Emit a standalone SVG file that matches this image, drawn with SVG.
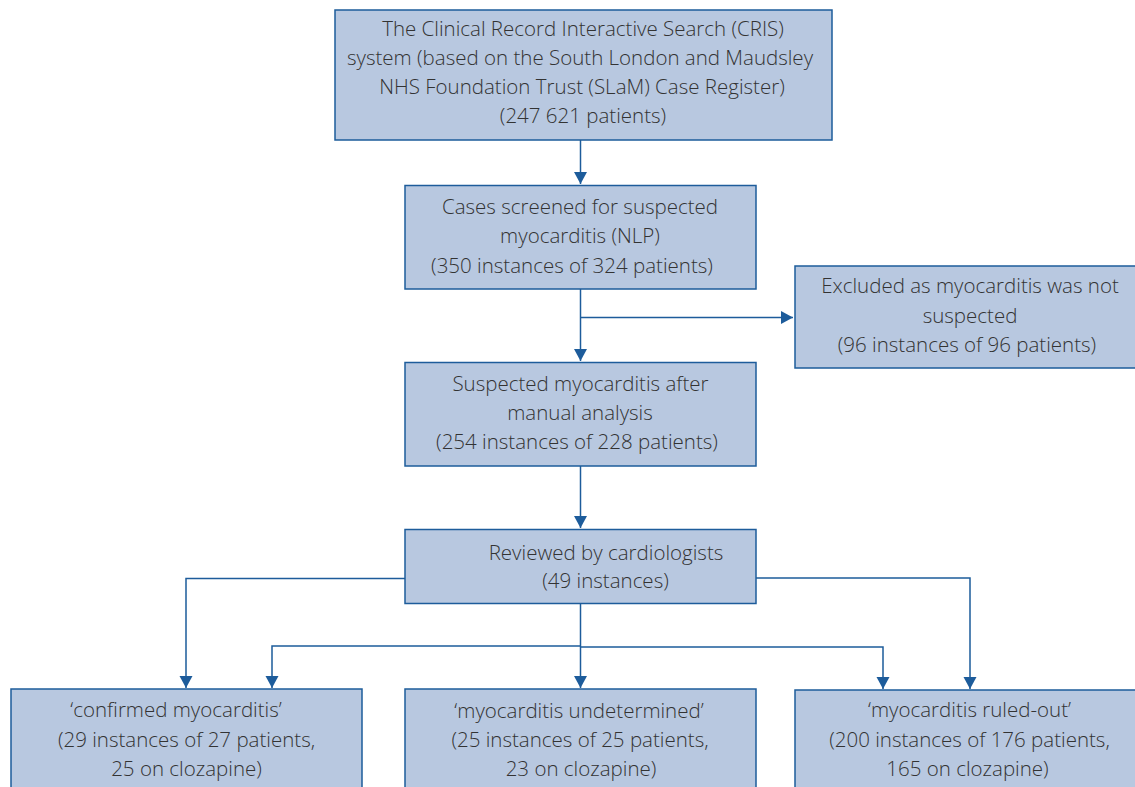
<svg xmlns="http://www.w3.org/2000/svg" width="1135" height="787" viewBox="0 0 1135 787">
<style>
.box{fill:#b8c8e0;stroke:#1d5c9b;stroke-width:1.5}
.t{font-family:"Open Sans","Liberation Sans",sans-serif;font-weight:300;font-size:20.5px;fill:#333;text-anchor:middle}
.c{fill:none;stroke:#1d5c9b;stroke-width:1.5}
</style>
<defs>
<marker id="ah" markerUnits="userSpaceOnUse" markerWidth="13" markerHeight="14" refX="12" refY="6.5" orient="auto">
<path d="M0,0 L12,6.5 L0,13 z" fill="#1d5c9b"/>
</marker>
</defs>
<rect width="1135" height="787" fill="#fff"/>
<g id="connectors">
<path class="c" d="M580.5,140 V184" marker-end="url(#ah)"/>
<path class="c" d="M580.5,289 V361" marker-end="url(#ah)"/>
<path class="c" d="M580.5,317.5 H793" marker-end="url(#ah)"/>
<path class="c" d="M580.5,466 V528" marker-end="url(#ah)"/>
<path class="c" d="M405,578.5 H186 V688" marker-end="url(#ah)"/>
<path class="c" d="M756,578 H970 V689" marker-end="url(#ah)"/>
<path class="c" d="M580.5,603 V688" marker-end="url(#ah)"/>
<path class="c" d="M580.5,646 H272 V688" marker-end="url(#ah)"/>
<path class="c" d="M580.5,647 H883 V689" marker-end="url(#ah)"/>
</g>
<g id="cris">
<rect class="box" x="335" y="10" width="497" height="130"/>
<text class="t" x="583" y="36">The Clinical Record Interactive Search (CRIS)</text>
<text class="t" x="580" y="65">system (based on the South London and Maudsley</text>
<text class="t" x="582" y="94">NHS Foundation Trust (SLaM) Case Register)</text>
<text class="t" x="583" y="123">(247 621 patients)</text>
</g>
<g id="screened">
<rect class="box" x="405" y="185.5" width="351" height="103.5"/>
<text class="t" x="580" y="214">Cases screened for suspected</text>
<text class="t" x="580" y="243">myocarditis (NLP)</text>
<text class="t" x="572" y="273">(350 instances of 324 patients)</text>
</g>
<g id="excluded">
<rect class="box" x="795" y="266" width="352" height="102"/>
<text class="t" x="970" y="293">Excluded as myocarditis was not</text>
<text class="t" x="970" y="323">suspected</text>
<text class="t" x="967" y="352">(96 instances of 96 patients)</text>
</g>
<g id="suspected">
<rect class="box" x="405" y="362.5" width="351" height="103.5"/>
<text class="t" x="580.5" y="391">Suspected myocarditis after</text>
<text class="t" x="580" y="420">manual analysis</text>
<text class="t" x="577" y="449">(254 instances of 228 patients)</text>
</g>
<g id="reviewed">
<rect class="box" x="405" y="529.5" width="351" height="74"/>
<text class="t" x="606" y="560">Reviewed by cardiologists</text>
<text class="t" x="605.5" y="588">(49 instances)</text>
</g>
<g id="confirmed">
<rect class="box" x="11" y="689" width="351" height="110"/>
<text class="t" x="176" y="717">‘confirmed myocarditis’</text>
<text class="t" x="186.5" y="747">(29 instances of 27 patients,</text>
<text class="t" x="186.5" y="776">25 on clozapine)</text>
</g>
<g id="undetermined">
<rect class="box" x="405" y="689" width="351" height="110"/>
<text class="t" x="579" y="718">‘myocarditis undetermined’</text>
<text class="t" x="580" y="747">(25 instances of 25 patients,</text>
<text class="t" x="581" y="776">23 on clozapine)</text>
</g>
<g id="ruledout">
<rect class="box" x="795" y="690" width="350" height="110"/>
<text class="t" x="969.5" y="717">‘myocarditis ruled-out’</text>
<text class="t" x="969.5" y="747">(200 instances of 176 patients,</text>
<text class="t" x="967.5" y="776">165 on clozapine)</text>
</g>
</svg>
